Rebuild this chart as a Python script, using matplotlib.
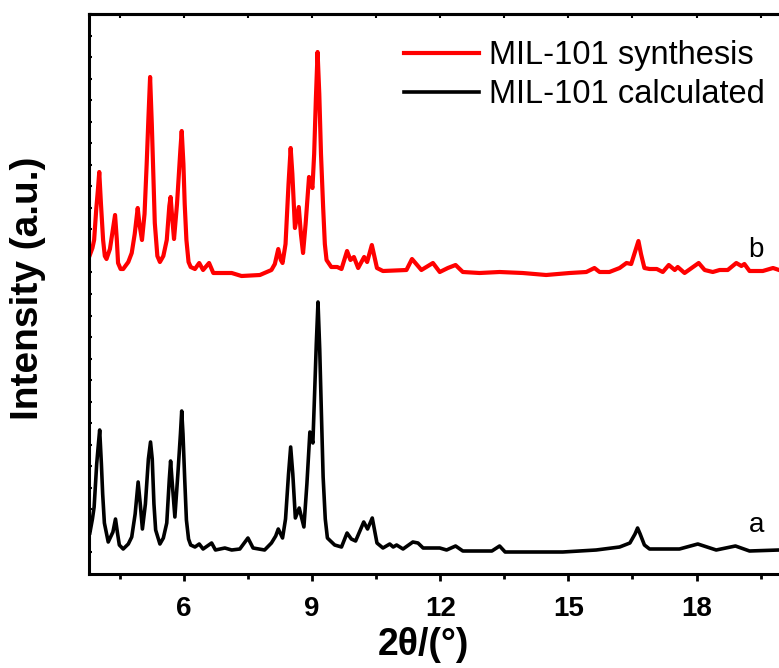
import matplotlib
matplotlib.use("Agg")
import matplotlib.pyplot as plt
import numpy as np

plt.rcParams['font.family'] = ['Liberation Sans', 'DejaVu Sans']

# MIL-101 synthesis (curve b)
x_syn = [3.80, 3.86, 3.90, 3.95, 3.99, 4.02, 4.06, 4.11, 4.15, 4.19, 4.27, 4.34, 4.39, 4.43,
         4.46, 4.52, 4.58, 4.70, 4.78, 4.85, 4.92, 4.96, 5.02, 5.08, 5.13, 5.17, 5.21, 5.25,
         5.32, 5.38, 5.44, 5.52, 5.60, 5.66, 5.69, 5.73, 5.77, 5.84, 5.92, 5.95, 5.99, 6.02,
         6.06, 6.11, 6.16, 6.26, 6.36, 6.45, 6.59, 6.69, 7.12, 7.35, 7.78,
         8.05, 8.13, 8.21, 8.27, 8.31, 8.38, 8.45, 8.50, 8.54, 8.60, 8.69, 8.74, 8.79, 8.85,
         8.93, 9.01, 9.05, 9.09, 9.13, 9.17, 9.21, 9.26, 9.30, 9.34, 9.45, 9.59,
         9.69, 9.82, 9.90, 9.98, 10.08, 10.22, 10.29, 10.40, 10.52, 10.66, 11.21, 11.34, 11.44,
         11.56, 11.83, 11.99, 12.18, 12.36, 12.53, 12.92, 13.39, 13.93, 14.48, 15.03, 15.42,
         15.61, 15.73, 15.96, 16.20, 16.36, 16.47, 16.58, 16.64, 16.70, 16.78, 16.90, 17.07,
         17.21, 17.35, 17.49, 17.56, 17.72, 18.05, 18.19, 18.38, 18.54, 18.73, 18.93, 19.05,
         19.12, 19.24, 19.55, 19.79, 19.93]
y_syn = [319, 326, 334, 365, 385, 402, 370, 334, 318, 315, 325, 345, 359, 335,
         311, 305, 305, 312, 321, 340, 366, 350, 334, 360, 410, 455, 497, 450,
         351, 318, 312, 318, 334, 368, 377, 355, 335, 370, 425, 443, 410, 370,
         334, 312, 307, 305, 311, 304, 311, 301, 301, 298, 299,
         304, 310, 325, 314, 311, 330, 390, 426, 400, 346, 367, 340, 321, 350,
         397, 386, 420, 475, 522, 480, 420, 367, 330, 314, 307, 307,
         305, 323, 314, 317, 306, 317, 312, 329, 306, 303, 304, 315, 310,
         304, 311, 302, 306, 309, 302, 301, 302, 301, 299, 301, 302,
         306, 302, 302, 306, 311, 310, 325, 333, 320, 306, 305, 305,
         302, 309, 304, 307, 301, 311, 304, 302, 304, 304, 311, 308,
         310, 303, 303, 306, 304]

# MIL-101 calculated (curve a)
x_calc = [3.80, 3.86, 3.90, 3.96, 4.00, 4.03, 4.07, 4.10, 4.14, 4.23, 4.34, 4.40, 4.45, 4.49,
          4.58, 4.70, 4.78, 4.86, 4.93, 4.98, 5.03, 5.10, 5.17, 5.22, 5.26, 5.30, 5.34, 5.44,
          5.52, 5.60, 5.66, 5.69, 5.73, 5.79, 5.86, 5.92, 5.95, 5.98, 6.02, 6.06, 6.11, 6.16,
          6.26, 6.36, 6.45, 6.65, 6.74, 6.96, 7.12, 7.31, 7.50, 7.62, 7.89,
          8.05, 8.15, 8.21, 8.31, 8.38, 8.45, 8.50, 8.55, 8.61, 8.70, 8.81, 8.88, 8.95, 9.02,
          9.06, 9.10, 9.14, 9.18, 9.22, 9.26, 9.31, 9.36, 9.53, 9.69, 9.82, 9.92, 10.02, 10.21,
          10.30, 10.41, 10.52, 10.66, 10.82, 10.90, 10.98, 11.13, 11.36, 11.48, 11.60, 11.99,
          12.15, 12.36, 12.53, 13.21, 13.39, 13.52, 14.87, 15.65, 16.20, 16.44, 16.56, 16.62,
          16.68, 16.78, 16.90, 17.60, 18.03, 18.46, 18.91, 19.24, 19.93]
y_calc = [41, 55, 67, 110, 130, 144, 110, 80, 51, 32, 42, 55, 40, 29,
          25, 30, 37, 60, 92, 70, 45, 70, 115, 132, 115, 70, 44, 30,
          36, 51, 95, 113, 90, 57, 100, 140, 163, 140, 95, 54, 35, 29,
          27, 30, 25, 31, 24, 26, 24, 25, 36, 26, 24,
          31, 38, 45, 36, 55, 100, 127, 100, 56, 66, 47, 90, 142, 131,
          180, 230, 272, 225, 160, 97, 55, 36, 29, 27, 41, 35, 33, 52,
          45, 56, 31, 26, 30, 27, 29, 25, 32, 31, 26, 26,
          24, 28, 23, 23, 28, 22, 22, 24, 27, 31, 40, 46,
          40, 29, 25, 25, 30, 24, 28, 23, 24]

fig = plt.figure(figsize=(7.79, 6.68), dpi=100)
ax = fig.add_axes([89 / 779, 94 / 668, 690 / 779, 560 / 668])

ax.plot(x_syn, y_syn, color='#ff0000', lw=3.0, label='MIL-101 synthesis',
        solid_joinstyle='round')
ax.plot(x_calc, y_calc, color='black', lw=2.6, label='MIL-101 calculated',
        solid_joinstyle='round')

ax.set_xlim(3.78, 19.93)
ax.set_ylim(0, 560)

for s in ['left', 'bottom', 'top']:
    ax.spines[s].set_linewidth(2.2)
ax.spines['right'].set_visible(False)

ax.set_xticks([6, 9, 12, 15, 18])
ax.set_xticks(np.arange(4.5, 20, 1.5), minor=True)
ax.tick_params(axis='x', which='major', direction='out', length=5, width=2,
               labelsize=20, pad=11)
ax.tick_params(axis='x', which='minor', direction='out', length=3.5, width=2)
for lab in ax.get_xticklabels():
    lab.set_fontweight('bold')

ax.set_yticks(np.linspace(0, 560, 27))
ax.set_yticklabels([])
ax.tick_params(axis='y', direction='in', length=2.5, width=1.5)

top = ax.secondary_xaxis('top')
top.set_xticks(np.arange(4.5, 20, 1.5))
top.set_xticklabels([])
top.tick_params(direction='in', length=3, width=1.5)
top.spines['top'].set_linewidth(2.2)

ax.set_xlabel('2θ/(°)', fontsize=27, fontweight='bold')
ax.xaxis.set_label_coords(0.484, -0.094)
ax.set_ylabel('Intensity (a.u.)', fontsize=28, fontweight='bold')
ax.yaxis.set_label_coords(-0.062, 0.51)

ax.text(19.40, 324, 'b', fontsize=20, ha='center', va='center')
ax.text(19.40, 49, 'a', fontsize=20, ha='center', va='center')

ax.legend(loc='upper right', bbox_to_anchor=(0.982, 0.94), frameon=False,
          fontsize=23.5, handlelength=2.3, handletextpad=0.3, labelspacing=0.25,
          borderpad=0, borderaxespad=0, bbox_transform=fig.transFigure)

fig.savefig('out.png', dpi=100)
